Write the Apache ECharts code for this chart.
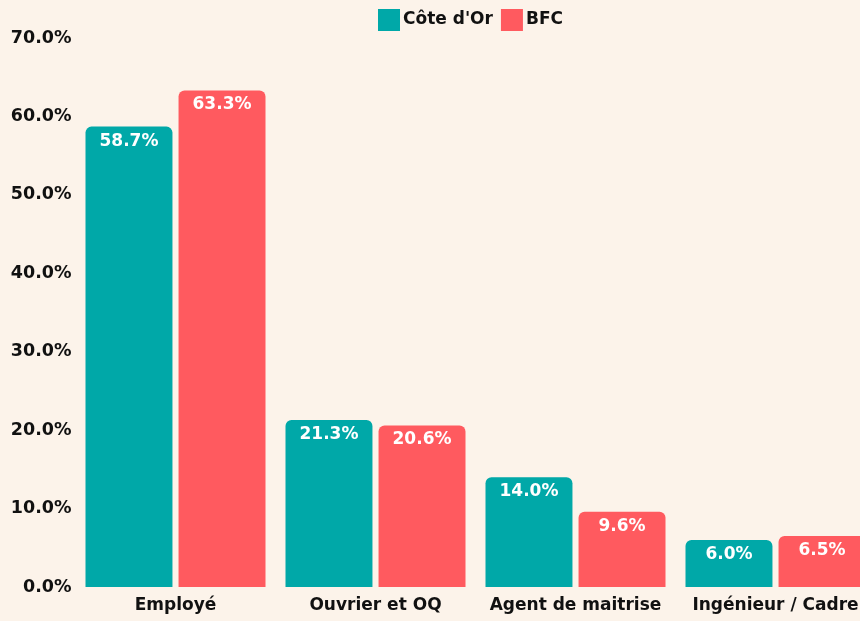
<!DOCTYPE html>
<html>
<head>
<meta charset="utf-8">
<script src="https://cdn.jsdelivr.net/npm/echarts@6/dist/echarts.min.js"></script>
<style>
  html, body { margin: 0; padding: 0; background: #fcf3ea; }
  #chart { width: 860px; height: 621px; }
</style>
</head>
<body>
<div id="chart"></div>
<script>
// =====================
// 数据
// =====================

const categories = ["Employé", "Ouvrier et OQ", "Agent de maitrise", "Ingénieur / Cadre"];
const coteDor = [58.7, 21.3, 14.0, 6.0];
const bfc = [63.3, 20.6, 9.6, 6.5];

const FONT = "DejaVu Sans";

// =====================
// 图表
// =====================

const chart = echarts.init(document.getElementById("chart"));

function makeSeries(name, data, color) {
  return {
    name: name,
    type: "bar",
    data: data,
    barGap: "7%",
    barCategoryGap: "10%",
    itemStyle: {
      color: color,
      borderRadius: [6, 6, 0, 0],
    },
    label: {
      show: true,
      position: "insideTop",
      distance: 6,
      color: "#ffffff",
      fontFamily: FONT,
      fontWeight: "bold",
      fontSize: 17,
      formatter: (p) => p.value.toFixed(1) + "%",
    },
  };
}

chart.setOption({
  animation: false,
  backgroundColor: "#fcf3ea",

  legend: {
    top: 4,
    left: 373,
    itemWidth: 22,
    itemHeight: 22,
    itemGap: 8,
    icon: "rect",
    textStyle: {
      fontFamily: FONT,
      fontWeight: "bold",
      fontSize: 17,
      color: "#111111",
      padding: [0, 0, 0, -2],
    },
    data: ["Côte d'Or", "BFC"],
  },

  grid: {
    left: 75.5,
    width: 800,
    top: 38,
    bottom: 34,
    outerBoundsMode: "none",
  },

  xAxis: {
    type: "category",
    data: categories,
    axisLine: { show: false },
    axisTick: { show: false },
    axisLabel: {
      interval: 0,
      margin: 10,
      color: "#111111",
      fontFamily: FONT,
      fontWeight: "bold",
      fontSize: 17,
    },
  },

  yAxis: {
    type: "value",
    min: 0,
    max: 70,
    interval: 10,
    splitLine: { show: false },
    axisLine: { show: false },
    axisTick: { show: false },
    axisLabel: {
      margin: 4,
      color: "#111111",
      fontFamily: FONT,
      fontWeight: "bold",
      fontSize: 17.5,
      formatter: (v) => v.toFixed(1) + "%",
    },
  },

  series: [
    makeSeries("Côte d'Or", coteDor, "#00a8a8"),
    makeSeries("BFC", bfc, "#ff5a5f"),
  ],
});
</script>
</body>
</html>
